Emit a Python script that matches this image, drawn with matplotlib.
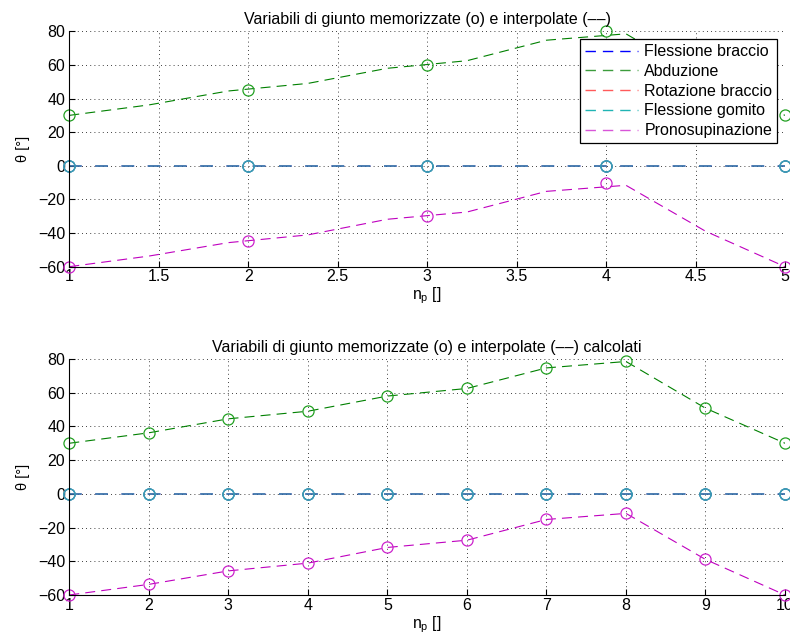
import matplotlib
matplotlib.use("Agg")

import matplotlib.pyplot as plt
import numpy as np
from matplotlib.lines import Line2D

plt.rcParams["font.family"] = ["Liberation Sans", "DejaVu Sans"]
plt.rcParams["font.size"] = 11.5

# stored joint values (top panel, 5 poses)
n_stored = [1, 2, 3, 4, 5]
stored_flex_braccio = [0, 0, 0, 0, 0]
stored_abduzione = [30, 45, 60, 80, 30]
stored_rot_braccio = [0, 0, 0, 0, 0]
stored_flex_gomito = [0, 0, 0, 0, 0]
stored_pronosup = [-60, -45, -30, -10, -60]

# computed / interpolated values (bottom panel, 10 samples)
n_calc = [1, 2, 3, 4, 5, 6, 7, 8, 9, 10]
calc_flex_braccio = [0, 0, 0, 0, 0, 0, 0, 0, 0, 0]
calc_abduzione = [30, 36.2, 44.5, 49, 58, 62.5, 74.7, 78.5, 50.8, 30]
calc_rot_braccio = [0, 0, 0, 0, 0, 0, 0, 0, 0, 0]
calc_flex_gomito = [0, 0, 0, 0, 0, 0, 0, 0, 0, 0]
calc_pronosup = [-60, -53.7, -45.7, -41.1, -31.8, -27.5, -15.2, -11.6, -38.9, -60]

labels = ["Flessione braccio", "Abduzione", "Rotazione braccio",
          "Flessione gomito", "Pronosupinazione"]
colors = ["#0000ff", "#008000", "#ff0000", "#00bfbf", "#bf00bf"]
legend_colors = ["#0000ff", "#3c9c3c", "#ff5a5a", "#20b4b4", "#d855d8"]
marker_colors = ["#3a7fa8", "#22a022", "#3a7fa8", "#3a9fb8", "#cc22cc"]

stored = [stored_flex_braccio, stored_abduzione, stored_rot_braccio,
          stored_flex_gomito, stored_pronosup]
calc = [calc_flex_braccio, calc_abduzione, calc_rot_braccio,
        calc_flex_gomito, calc_pronosup]

# interpolated samples spread over the stored pose range
x_interp_top = np.linspace(n_stored[0], n_stored[-1], len(n_calc))

fig = plt.figure(figsize=(7.9, 6.44), dpi=100)
ax1 = fig.add_axes([0.0877, 0.5859, 0.906, 0.3655])
ax2 = fig.add_axes([0.0877, 0.0761, 0.906, 0.3665])

# zero-valued joints overlap; thicker, blended strokes give the steel-blue look
line_widths = [1.4, 0.8, 1.4, 1.4, 0.8]
dash_styles = [(0, (6.5, 7)), (0, (9, 5.5)), (0, (6.5, 7)), (0, (6.5, 7)), (0, (9, 5.5))]
alphas = [0.6, 1.0, 0.35, 0.5, 1.0]


def style_axes(ax, xticks, xlim):
    ax.set_xlim(xlim)
    ax.set_ylim(-60, 80)
    ax.set_xticks(xticks)
    ax.set_yticks([-60, -40, -20, 0, 20, 40, 60, 80])
    ax.set_yticklabels(["\u221260", "\u221240", "\u221220", "0", "20", "40", "60", "80"])
    ax.grid(True, linestyle=(0, (1, 4)), color="black", linewidth=0.6)
    ax.tick_params(direction="in", length=4, width=0.8, labelsize=11.5)
    ax.tick_params(axis="x", pad=2)
    ax.tick_params(axis="y", pad=3)
    ax.spines["top"].set_visible(False)
    ax.spines["right"].set_visible(False)
    ax.set_ylabel("\u03b8 [\u00b0]", fontsize=10.5, labelpad=6)
    ax.set_xlabel("n$_\\mathregular{p}$ []", fontsize=11.3, labelpad=1)
    ax.set_axisbelow(True)


def draw_panel(ax, x_line, x_marks, marks):
    for i in range(5):
        ax.plot(x_line, calc[i], linestyle=dash_styles[i], color=colors[i],
                linewidth=line_widths[i], alpha=alphas[i])
    for i in range(5):
        ax.plot(x_marks, marks[i], linestyle="none", marker="o", markersize=8,
                markerfacecolor="none", markeredgecolor=marker_colors[i],
                markeredgewidth=0.9, clip_on=False)


# top panel
draw_panel(ax1, x_interp_top, n_stored, stored)
style_axes(ax1, [1, 1.5, 2, 2.5, 3, 3.5, 4, 4.5, 5], (1, 5))
ax1.set_xticklabels(["1", "1.5", "2", "2.5", "3", "3.5", "4", "4.5", "5"])
ax1.set_title("Variabili di giunto memorizzate (o) e interpolate (\u2013\u2013)",
              fontsize=11.5, pad=5)
handles = [Line2D([], [], color=c, linewidth=1.0, linestyle=(0, (7.5, 5)))
           for c in legend_colors]
leg = ax1.legend(handles, labels, loc="upper right", bbox_to_anchor=(0.989, 0.966),
                 fontsize=11.5, handlelength=3.3, handletextpad=0.4, borderpad=0.3,
                 labelspacing=0.3, borderaxespad=0, fancybox=False, framealpha=1)
leg.get_frame().set_edgecolor("black")
leg.get_frame().set_linewidth(0.9)

# bottom panel
draw_panel(ax2, n_calc, n_calc, calc)
style_axes(ax2, n_calc, (1, 10))
ax2.set_title("Variabili di giunto memorizzate (o) e interpolate (\u2013\u2013) calcolati",
              fontsize=11.5, pad=5)

fig.savefig("out.png", dpi=100)
plt.close(fig)
